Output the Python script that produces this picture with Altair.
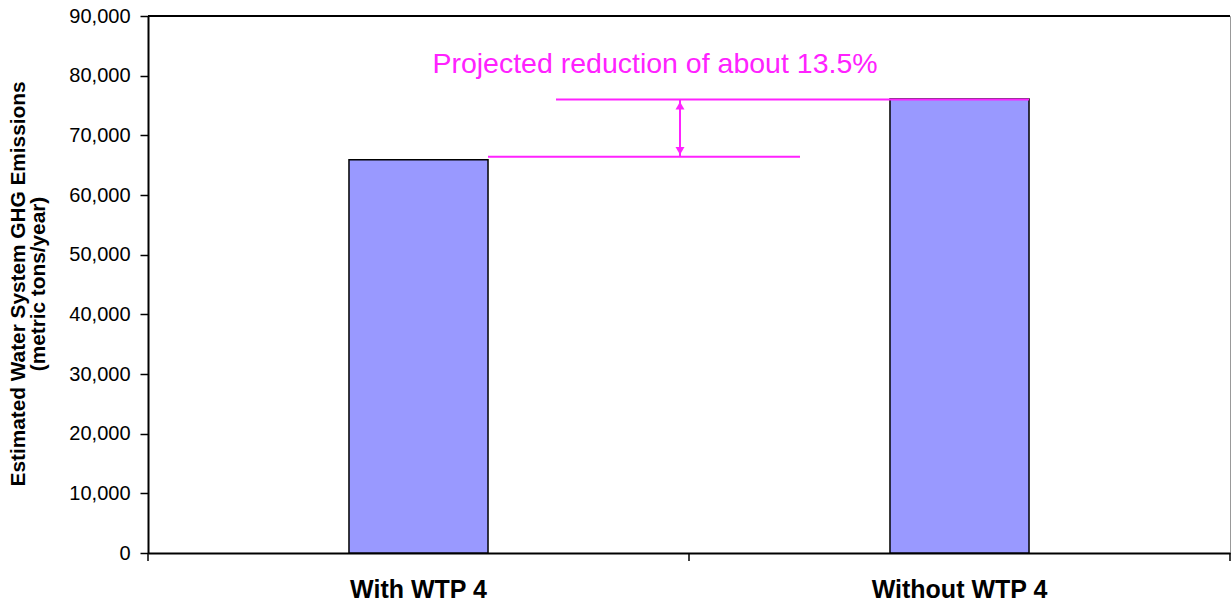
import altair as alt
import pandas as pd

categories = ["With WTP 4", "Without WTP 4"]
emissions = [65900, 76100]

y_ticks = [0, 10000, 20000, 30000, 40000, 50000, 60000, 70000, 80000, 90000]
annot_text = "Projected reduction of about 13.5%"
upper_level = [76000]
lower_level = [66400]
text_level = [82000]

W, H = 1082, 537
MAG = "#FF22FF"

bars_df = pd.DataFrame({"cat": categories, "val": emissions})

xscale = alt.Scale(domain=categories, paddingInner=0, paddingOuter=0)
yscale = alt.Scale(domain=[0, 90000], nice=False)

base = alt.Chart(bars_df)

bars = base.mark_bar(
    color="#9999FF", stroke="black", strokeWidth=1.5,
    width=alt.RelativeBandSize(0.257)
).encode(
    x=alt.X("cat:N", scale=xscale, sort=categories,
            axis=alt.Axis(title=None, labelAngle=0, ticks=False, domain=True,
                          domainColor="black", domainWidth=2,
                          labelFont="Liberation Sans", labelFontSize=25,
                          labelFontWeight="bold", labelColor="black",
                          labelPadding=24, labelBaseline="top")),
    y=alt.Y("val:Q", scale=yscale,
            axis=alt.Axis(values=y_ticks, format=",.0f", grid=False,
                          title=["Estimated Water System GHG Emissions", "(metric tons/year)"],
                          titleFont="Liberation Sans", titleFontSize=20.8,
                          titleFontWeight="bold", titleColor="black",
                          titleAngle=270, titleBaseline="middle", titleAlign="center",
                          titleX=-130, titleY=H / 2 - 1, titleLineHeight=20,
                          labelFont="Liberation Sans", labelFontSize=20,
                          labelColor="black", labelPadding=10,
                          tickSize=8, tickWidth=1.5, tickColor="black",
                          domainColor="black", domainWidth=2)),
)

# x-axis tick marks at category boundaries
xticks = base.mark_rule(color="black", strokeWidth=1.5).encode(
    x=alt.X("cat:N", scale=xscale, sort=categories, bandPosition=0),
    y=alt.value(H),
    y2=alt.value(H + 8),
)
xtick_end = alt.Chart(pd.DataFrame({"a": [0]})).mark_rule(color="black", strokeWidth=1.5).encode(
    x=alt.value(W), y=alt.value(H), y2=alt.value(H + 8)
)

# top border
top_df = pd.DataFrame({"v": [90000]})
top_border = alt.Chart(top_df).mark_rule(color="black", strokeWidth=2).encode(
    y=alt.Y("v:Q", scale=yscale), x=alt.value(0), x2=alt.value(W)
)

up_df = pd.DataFrame({"v": upper_level})
lo_df = pd.DataFrame({"v": lower_level})

upper_line = alt.Chart(up_df).mark_rule(color=MAG, strokeWidth=2).encode(
    y=alt.Y("v:Q", scale=yscale), x=alt.value(408), x2=alt.value(881)
)
lower_line = alt.Chart(lo_df).mark_rule(color=MAG, strokeWidth=2).encode(
    y=alt.Y("v:Q", scale=yscale), x=alt.value(340), x2=alt.value(652)
)

arrow_df = pd.DataFrame({"top": upper_level, "bot": lower_level})
arrow_shaft = alt.Chart(arrow_df).mark_rule(color=MAG, strokeWidth=2).encode(
    x=alt.value(532), y=alt.Y("top:Q", scale=yscale), y2="bot:Q"
)
arrow_up = alt.Chart(up_df).mark_point(
    shape="triangle-up", filled=True, color=MAG, size=80, opacity=1, yOffset=6
).encode(x=alt.value(532), y=alt.Y("v:Q", scale=yscale))
arrow_down = alt.Chart(lo_df).mark_point(
    shape="triangle-down", filled=True, color=MAG, size=80, opacity=1, yOffset=-6
).encode(x=alt.value(532), y=alt.Y("v:Q", scale=yscale))

text_df = pd.DataFrame({"v": text_level, "t": [annot_text]})
annot = alt.Chart(text_df).mark_text(
    color=MAG, font="Liberation Sans", fontSize=28.5, align="center", baseline="middle"
).encode(x=alt.value(507), y=alt.Y("v:Q", scale=yscale), text="t:N")

chart = alt.layer(
    bars, xticks, xtick_end, top_border, upper_line, lower_line,
    arrow_shaft, arrow_up, arrow_down, annot
).properties(
    width=W, height=H,
    autosize=alt.AutoSizeParams(type="none"),
    padding={"left": 148, "top": 16, "right": 1, "bottom": 50},
    background="white",
).configure_view(stroke="#999999", strokeWidth=1)

chart.save("out.html", embed_options={"renderer": "svg", "actions": False})
